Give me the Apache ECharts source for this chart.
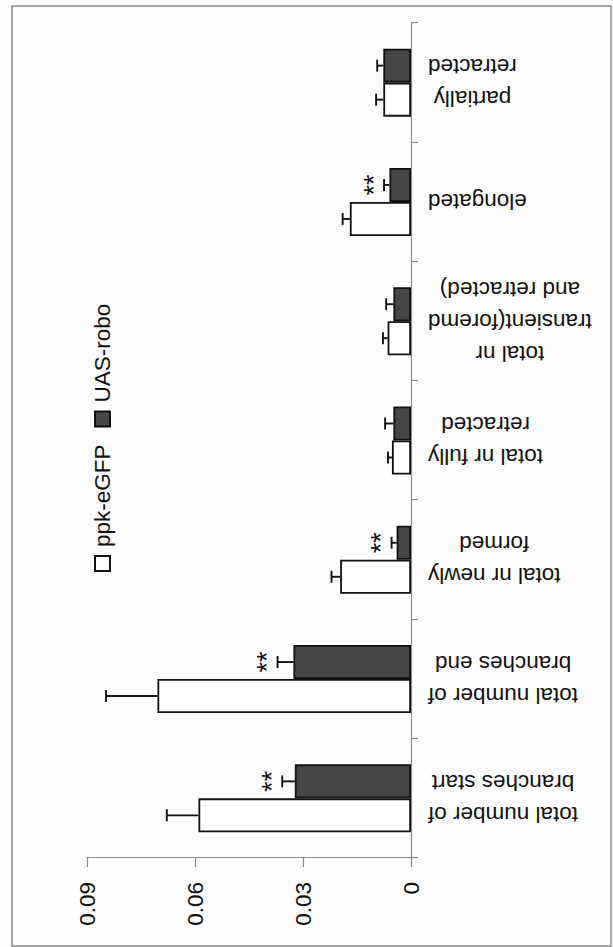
<!DOCTYPE html>
<html>
<head>
<meta charset="utf-8">
<script src="https://cdn.jsdelivr.net/npm/echarts@6/dist/echarts.min.js"></script>
<style>
html,body{margin:0;padding:0;width:613px;height:947px;overflow:hidden;background:#fdfdfd;}
#chart{position:absolute;left:0;top:0;width:947px;height:613px;transform-origin:0 0;transform:translate(0,947px) rotate(-90deg);}
</style>
</head>
<body>
<div id="chart"></div>
<script>
// ---- data ----
const categories = [
  'total number of\nbranches start',
  'total number of\nbranches end',
  'total nr newly\nformed',
  'total nr fully\nretracted',
  'total nr\ntransient(foremd\nand retracted)',
  'elongated',
  'partially\nretracted'
];
const seriesNames = ['ppk-eGFP', 'UAS-robo'];
const ppkValues  = [0.0591, 0.0705, 0.0197, 0.0053, 0.0065, 0.0170, 0.0077];
const ppkErrors  = [0.0088, 0.0143, 0.0024, 0.0011, 0.0013, 0.0020, 0.0020];
const roboValues = [0.0323, 0.0327, 0.0040, 0.0049, 0.0049, 0.0060, 0.0077];
const roboErrors = [0.0035, 0.0044, 0.0014, 0.0023, 0.0020, 0.0015, 0.0017];
const significance = ['**', '**', '**', '', '', '**', ''];
const valueTickLabels = ['0', '0.03', '0.06', '0.09'];

// ---- chart ----
const FONT = '"Liberation Sans", Arial, sans-serif';
const chart = echarts.init(document.getElementById('chart'), null, {renderer: 'svg', width: 947, height: 613});
const BAR_W = 34;

function errSeries(name, values, errors, offset, withSig) {
  return {
    type: 'custom',
    name: name,
    z: 5,
    data: values.map((v, i) => [i, v, errors[i]]),
    encode: {x: 0, y: 1},
    renderItem: function (params, api) {
      const ci = api.value(0), v = api.value(1), e = api.value(2);
      const sig = withSig ? significance[ci] : '';
      const base = api.coord([ci, v]);
      const top = api.coord([ci, v + e]);
      const x = base[0] + offset;
      const children = [
        {type: 'line', shape: {x1: x, y1: base[1], x2: x, y2: top[1]}, style: {stroke: '#111', lineWidth: 1.9}},
        {type: 'line', shape: {x1: x - 6, y1: top[1], x2: x + 6, y2: top[1]}, style: {stroke: '#111', lineWidth: 1.9}}
      ];
      if (sig) {
        children.push({type: 'text', style: {text: sig, x: x, y: top[1] + 3, align: 'center', verticalAlign: 'bottom',
          font: '27px ' + FONT, fill: '#111'}});
      }
      return {type: 'group', children: children};
    },
    tooltip: {show: false}
  };
}

chart.setOption({
  backgroundColor: '#fdfdfd',
  animation: false,
  textStyle: {fontFamily: FONT},
  graphic: [{
    type: 'rect', silent: true, z: 0,
    shape: {x: 1, y: 12, width: 940, height: 599},
    style: {fill: null, stroke: '#8a8a8a', lineWidth: 1.5}
  }],
  legend: {
    data: seriesNames,
    left: 370, top: 86,
    itemWidth: 15, itemHeight: 15, itemGap: 17,
    icon: 'rect',
    textStyle: {fontSize: 22.5, color: '#111', fontFamily: FONT, padding: [0, 0, 0, 4]}
  },
  grid: {left: 89, right: 23, top: 87.3, bottom: 202, containLabel: false},
  xAxis: {
    type: 'category',
    data: categories,
    axisLine: {lineStyle: {color: '#8a8a8a', width: 1.2}},
    axisTick: {show: true, length: 7, lineStyle: {color: '#8a8a8a', width: 1.2}},
    axisLabel: {
      interval: 0, rotate: 90, margin: 17, color: '#111',
      formatter: v => v.split('\n').map(s => '{c|' + s + '}').join('\n'),
      rich: {c: {align: 'center', fontSize: 22.5, lineHeight: 32, fontFamily: FONT, color: '#111'}}
    }
  },
  yAxis: {
    type: 'value', min: 0, max: 0.09, interval: 0.03,
    splitLine: {show: false},
    axisLine: {show: true, lineStyle: {color: '#8a8a8a', width: 1.2}},
    axisTick: {show: true, length: 9, lineStyle: {color: '#8a8a8a', width: 1.2}},
    axisLabel: {
      margin: 24, fontSize: 22.5, color: '#111', fontFamily: FONT,
      formatter: (v) => valueTickLabels[Math.round(v / 0.03)]
    }
  },
  series: [
    {
      name: seriesNames[0], type: 'bar', data: ppkValues, barWidth: BAR_W, barGap: '0%',
      itemStyle: {color: '#ffffff', borderColor: '#111', borderWidth: 1.8}
    },
    {
      name: seriesNames[1], type: 'bar', data: roboValues, barWidth: BAR_W, barGap: '0%',
      itemStyle: {color: '#474645', borderColor: '#111', borderWidth: 1.8}
    },
    errSeries('err-ppk', ppkValues, ppkErrors, -BAR_W / 2, false),
    errSeries('err-robo', roboValues, roboErrors, BAR_W / 2, true)
  ]
});
</script>
</body>
</html>
